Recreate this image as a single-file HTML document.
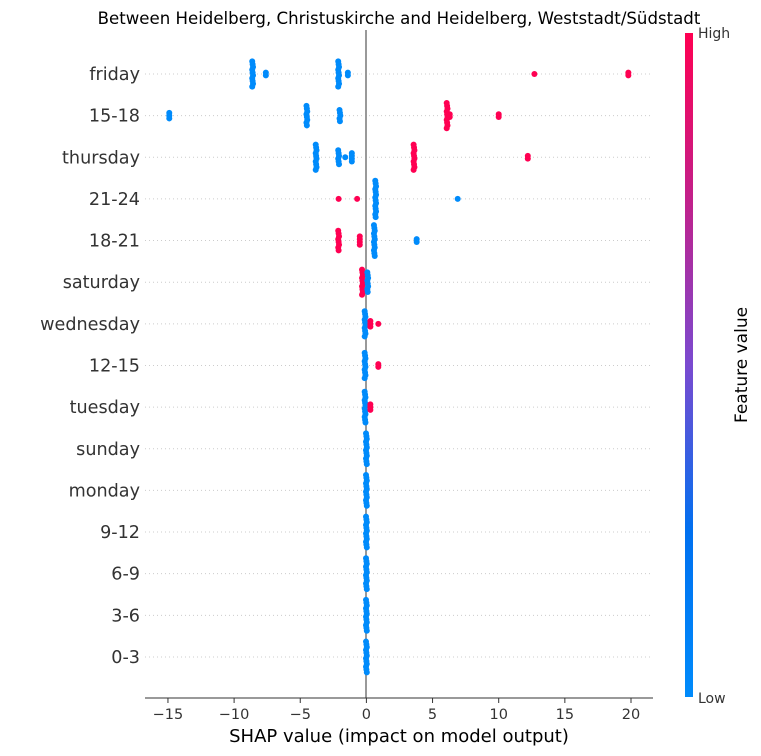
<!DOCTYPE html>
<html><head><meta charset="utf-8">
<style>
html,body{margin:0;padding:0;background:#fff;}
svg{display:block;font-family:"DejaVu Sans","Liberation Sans",sans-serif;}
</style></head>
<body>
<svg id="chart" width="761" height="756" viewBox="0 0 761 756" xmlns="http://www.w3.org/2000/svg">
<defs>
<linearGradient id="cg" x1="0" y1="1" x2="0" y2="0">
<stop offset="0" stop-color="#008bfb"/>
<stop offset="0.25" stop-color="#0070f0"/>
<stop offset="0.5" stop-color="#7a4ad0"/>
<stop offset="0.75" stop-color="#c2208a"/>
<stop offset="1" stop-color="#ff0052"/>
</linearGradient>
</defs>
<text x="399" y="24" font-size="16.6" text-anchor="middle" fill="#000">Between Heidelberg, Christuskirche and Heidelberg, Weststadt/Südstadt</text>
<g id="grid"></g>
<line x1="366" y1="30" x2="366" y2="698" stroke="#999" stroke-width="2"/>
<g id="pts"></g>
<g id="labels"></g>
<line x1="145" y1="698" x2="653" y2="698" stroke="#333" stroke-width="1"/>
<g id="xticks"></g>
<text x="399" y="742" font-size="18" text-anchor="middle" fill="#000">SHAP value (impact on model output)</text>
<rect x="685" y="33" width="8" height="664" fill="url(#cg)"/>
<text x="698" y="38" font-size="14" fill="#333">High</text>
<text x="698" y="703" font-size="14" fill="#333">Low</text>
<text transform="translate(747,365) rotate(-90)" font-size="17" text-anchor="middle" fill="#000">Feature value</text>
</svg>
<script>
const features = ["friday","15-18","thursday","21-24","18-21","saturday","wednesday","12-15","tuesday","sunday","monday","9-12","6-9","3-6","0-3"];
// clusters per feature: [shap value, count, high(1)/low(0)]
const clusterValues = [
 [-8.6,-7.6,-2.1,-1.4,12.7,19.8],
 [-14.9,-4.5,-2.0,6.1,6.3,10.0],
 [-3.8,-2.1,-1.6,-1.1,3.6,12.2],
 [-2.1,-0.7,0.7,6.9],
 [-2.1,-0.5,0.6,3.8],
 [-0.3,0.1],
 [-0.1,0.3,0.9],
 [-0.1,0.9],
 [-0.1,0.3],
 [0],[0],[0],[0],[0],[0]
];
const clusterCounts = [
 [10,2,10,2,1,2],
 [3,8,5,10,2,2],
 [10,6,1,4,10,2],
 [1,1,14,1],
 [8,4,12,2],
 [10,8],
 [10,3,1],
 [10,2],
 [12,3],
 [12],[12],[12],[12],[12],[12]
];
const clusterHigh = [
 [0,0,0,0,1,1],
 [0,0,0,1,1,1],
 [0,0,0,0,1,1],
 [1,1,0,0],
 [1,1,0,0],
 [1,0],
 [0,1,1],
 [0,1],
 [0,1],
 [0],[0],[0],[0],[0],[0]
];
const xTicks = [-15,-10,-5,0,5,10,15,20];

const NS="http://www.w3.org/2000/svg";
const xScale = v => 366.4 + v*13.23;
const yScale = i => 74 + i*41.64;
function mk(tag, attrs, parent){const e=document.createElementNS(NS,tag);for(const k in attrs)e.setAttribute(k,attrs[k]);parent.appendChild(e);return e;}
const grid=document.getElementById('grid'), pts=document.getElementById('pts'), lab=document.getElementById('labels'), xt=document.getElementById('xticks');

features.forEach((f,i)=>{
  const y=yScale(i);
  const gl=mk('line',{x1:145,x2:653,y1:y,y2:y,stroke:'#ccc','stroke-width':1,'stroke-dasharray':'1,3'},grid);
  
  
  const t=mk('text',{x:140,y:y+6,'font-size':17.6,'text-anchor':'end',fill:'#333'},lab);
  t.textContent=f;
  
  
  clusterValues[i].forEach((v,j)=>{
    const n=clusterCounts[i][j];
    const col=clusterHigh[i][j]?'#ff0052':'#008bfb';
    for(let k=0;k<n;k++){
      const off=(k-(n-1)/2)*2.8;
      const dx=(n>4)?((k%3)-1)*0.4:0;
      const c=mk('circle',{cx:xScale(v)+dx,cy:y+off,r:3,fill:col},pts);
      
      
    }
  });
});
xTicks.forEach(v=>{
  const x=xScale(v);
  const l=mk('line',{x1:x,x2:x,y1:698,y2:703,stroke:'#333','stroke-width':1},xt);
  
  
  const t=mk('text',{x:x,y:719,'font-size':14.5,'text-anchor':'middle',fill:'#333'},xt);
  t.textContent=v<0?'\u2212'+Math.abs(v):String(v);
  
  
});
</script>
</body></html>
